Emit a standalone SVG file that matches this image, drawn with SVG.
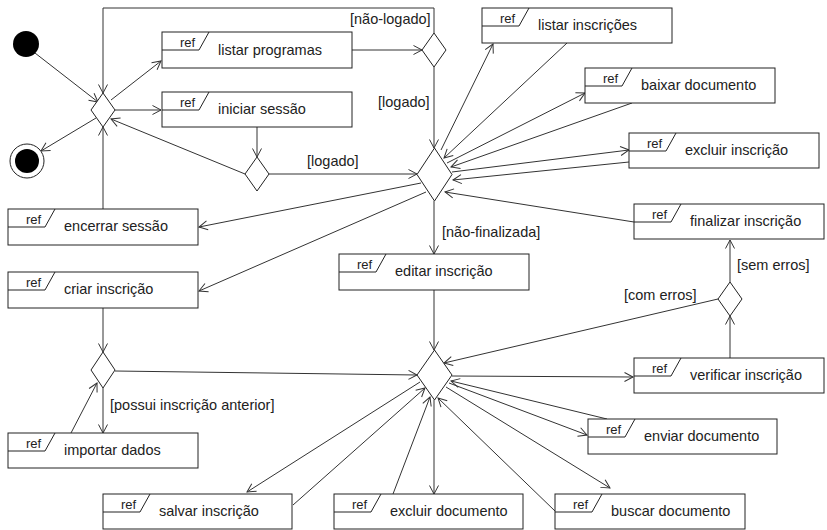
<svg xmlns="http://www.w3.org/2000/svg" width="827" height="530" viewBox="0 0 827 530">
<defs>
<marker id="arr" markerWidth="11" markerHeight="11" refX="9.5" refY="5.5" orient="auto" markerUnits="userSpaceOnUse">
<path d="M1,1 L9.5,5.5 L1,10" fill="none" stroke="#333" stroke-width="1"/>
</marker>
<style>
.box{fill:#fff;stroke:#222;stroke-width:1}
.tab{fill:none;stroke:#222;stroke-width:1}
.dec{fill:#fff;stroke:#222;stroke-width:1}
.lbl{font-family:"Liberation Sans",Arial,sans-serif;font-size:14.5px;fill:#222}
.ref{font-family:"Liberation Sans",Arial,sans-serif;font-size:13px;fill:#222}
.g{font-family:"Liberation Sans",Arial,sans-serif;font-size:14.5px;fill:#222}
.c{fill:none;stroke:#333;stroke-width:1;marker-end:url(#arr)}
</style>
</defs>
<rect width="827" height="530" fill="#fff"/>
<g id="connectors">
<line class="c" x1="35" y1="53" x2="98" y2="102"/>
<line class="c" x1="96" y1="118" x2="41" y2="151"/>
<line class="c" x1="111" y1="100" x2="161" y2="61"/>
<line class="c" x1="115" y1="110" x2="161" y2="110"/>
<line class="c" x1="352" y1="50" x2="422" y2="50"/>
<polyline class="c" points="434,33 434,8 103,8 103,93"/>
<line class="c" x1="434" y1="67" x2="434" y2="148"/>
<line class="c" x1="257" y1="127" x2="257" y2="157"/>
<line class="c" x1="245" y1="174" x2="111" y2="119"/>
<line class="c" x1="269" y1="174" x2="417" y2="174"/>
<line class="c" x1="421" y1="183" x2="199" y2="227"/>
<line class="c" x1="426" y1="192" x2="199" y2="291"/>
<line class="c" x1="103" y1="209" x2="103" y2="127"/>
<line class="c" x1="103" y1="308" x2="103" y2="352"/>
<line class="c" x1="103" y1="388" x2="103" y2="433"/>
<line class="c" x1="71" y1="433" x2="97" y2="383"/>
<line class="c" x1="115" y1="371" x2="417" y2="375"/>
<line class="c" x1="434" y1="201" x2="434" y2="254"/>
<line class="c" x1="434" y1="290" x2="434" y2="350"/>
<line class="c" x1="441" y1="150" x2="493" y2="44"/>
<line class="c" x1="567" y1="43" x2="444" y2="158"/>
<line class="c" x1="447" y1="163" x2="585" y2="93"/>
<line class="c" x1="632" y1="103" x2="451" y2="167"/>
<line class="c" x1="452" y1="172" x2="629" y2="150"/>
<line class="c" x1="629" y1="162" x2="453" y2="180"/>
<line class="c" x1="634" y1="222" x2="445" y2="192"/>
<line class="c" x1="730" y1="358" x2="730" y2="316"/>
<line class="c" x1="730" y1="282" x2="730" y2="240"/>
<line class="c" x1="718" y1="299" x2="444" y2="363"/>
<line class="c" x1="452" y1="376" x2="633" y2="377"/>
<line class="c" x1="420" y1="382" x2="247" y2="492"/>
<line class="c" x1="293" y1="505" x2="425" y2="388"/>
<line class="c" x1="393" y1="494" x2="430" y2="397"/>
<line class="c" x1="434" y1="400" x2="434" y2="494"/>
<line class="c" x1="555" y1="511" x2="438" y2="398"/>
<line class="c" x1="446" y1="387" x2="610" y2="488"/>
<line class="c" x1="449" y1="383" x2="587" y2="435"/>
<line class="c" x1="607" y1="419" x2="451" y2="381"/>
<text class="g" x="350" y="24">[não-logado]</text>
<text class="g" x="378" y="107">[logado]</text>
<text class="g" x="307" y="166">[logado]</text>
<text class="g" x="442" y="237">[não-finalizada]</text>
<text class="g" x="737" y="270">[sem erros]</text>
<text class="g" x="624" y="300">[com erros]</text>
<text class="g" x="110" y="410">[possui inscrição anterior]</text>
</g>
<g id="initial"><circle cx="26" cy="44" r="13" fill="#000"/></g>
<g id="final"><circle cx="27" cy="161" r="17" fill="#fff" stroke="#222"/><circle cx="27" cy="161" r="12" fill="#000"/></g>
<g id="d1"><polygon class="dec" points="103,93 115,110 103,127 91,110"/></g>
<g id="d2"><polygon class="dec" points="434,33 446,50 434,67 422,50"/></g>
<g id="d4"><polygon class="dec" points="257,157 269,174 257,191 245,174"/></g>
<g id="d3"><polygon class="dec" points="434.5,148 452,174.5 434.5,201 417,174.5"/></g>
<g id="d5"><polygon class="dec" points="103,352 115,370 103,388 91,370"/></g>
<g id="d6"><polygon class="dec" points="434.5,350 452,375 434.5,400 417,375"/></g>
<g id="d7"><polygon class="dec" points="730,282 742,299 730,316 718,299"/></g>
<g id="listar-programas"><rect class="box" x="162" y="32" width="190" height="36"/><path class="tab" d="M162,50 H199 L209,32"/><text class="ref" x="180" y="47">ref</text><text class="lbl" x="218" y="55">listar programas</text></g>
<g id="iniciar-sessao"><rect class="box" x="162" y="92" width="190" height="35"/><path class="tab" d="M162,110 H199 L209,92"/><text class="ref" x="180" y="107">ref</text><text class="lbl" x="218" y="114">iniciar sessão</text></g>
<g id="listar-inscricoes"><rect class="box" x="482" y="8" width="190" height="35"/><path class="tab" d="M482,26 H519 L529,8"/><text class="ref" x="500" y="23">ref</text><text class="lbl" x="538" y="30">listar inscrições</text></g>
<g id="baixar-documento"><rect class="box" x="585" y="68" width="190" height="35"/><path class="tab" d="M585,86 H622 L632,68"/><text class="ref" x="603" y="83">ref</text><text class="lbl" x="641" y="90">baixar documento</text></g>
<g id="excluir-inscricao"><rect class="box" x="629" y="133" width="190" height="35"/><path class="tab" d="M629,151 H666 L676,133"/><text class="ref" x="647" y="148">ref</text><text class="lbl" x="685" y="155">excluir inscrição</text></g>
<g id="encerrar-sessao"><rect class="box" x="8" y="209" width="190" height="36"/><path class="tab" d="M8,227 H45 L55,209"/><text class="ref" x="26" y="224">ref</text><text class="lbl" x="64" y="231">encerrar sessão</text></g>
<g id="finalizar-inscricao"><rect class="box" x="634" y="204" width="190" height="35"/><path class="tab" d="M634,222 H671 L681,204"/><text class="ref" x="652" y="219">ref</text><text class="lbl" x="690" y="226">finalizar inscrição</text></g>
<g id="criar-inscricao"><rect class="box" x="8" y="272" width="190" height="36"/><path class="tab" d="M8,290 H45 L55,272"/><text class="ref" x="26" y="287">ref</text><text class="lbl" x="64" y="294">criar inscrição</text></g>
<g id="editar-inscricao"><rect class="box" x="339" y="254" width="190" height="36"/><path class="tab" d="M339,272 H376 L386,254"/><text class="ref" x="357" y="269">ref</text><text class="lbl" x="395" y="276">editar inscrição</text></g>
<g id="verificar-inscricao"><rect class="box" x="634" y="358" width="190" height="35"/><path class="tab" d="M634,376 H671 L681,358"/><text class="ref" x="652" y="373">ref</text><text class="lbl" x="690" y="380">verificar inscrição</text></g>
<g id="enviar-documento"><rect class="box" x="588" y="419" width="189" height="35"/><path class="tab" d="M588,437 H625 L635,419"/><text class="ref" x="606" y="434">ref</text><text class="lbl" x="644" y="441">enviar documento</text></g>
<g id="importar-dados"><rect class="box" x="8" y="433" width="190" height="35"/><path class="tab" d="M8,451 H45 L55,433"/><text class="ref" x="26" y="448">ref</text><text class="lbl" x="64" y="455">importar dados</text></g>
<g id="salvar-inscricao"><rect class="box" x="103" y="494" width="189" height="35"/><path class="tab" d="M103,512 H140 L150,494"/><text class="ref" x="121" y="509">ref</text><text class="lbl" x="159" y="516">salvar inscrição</text></g>
<g id="excluir-documento"><rect class="box" x="334" y="494" width="189" height="35"/><path class="tab" d="M334,512 H371 L381,494"/><text class="ref" x="352" y="509">ref</text><text class="lbl" x="390" y="516">excluir documento</text></g>
<g id="buscar-documento"><rect class="box" x="555" y="494" width="190" height="35"/><path class="tab" d="M555,512 H592 L602,494"/><text class="ref" x="573" y="509">ref</text><text class="lbl" x="611" y="516">buscar documento</text></g>
</svg>
